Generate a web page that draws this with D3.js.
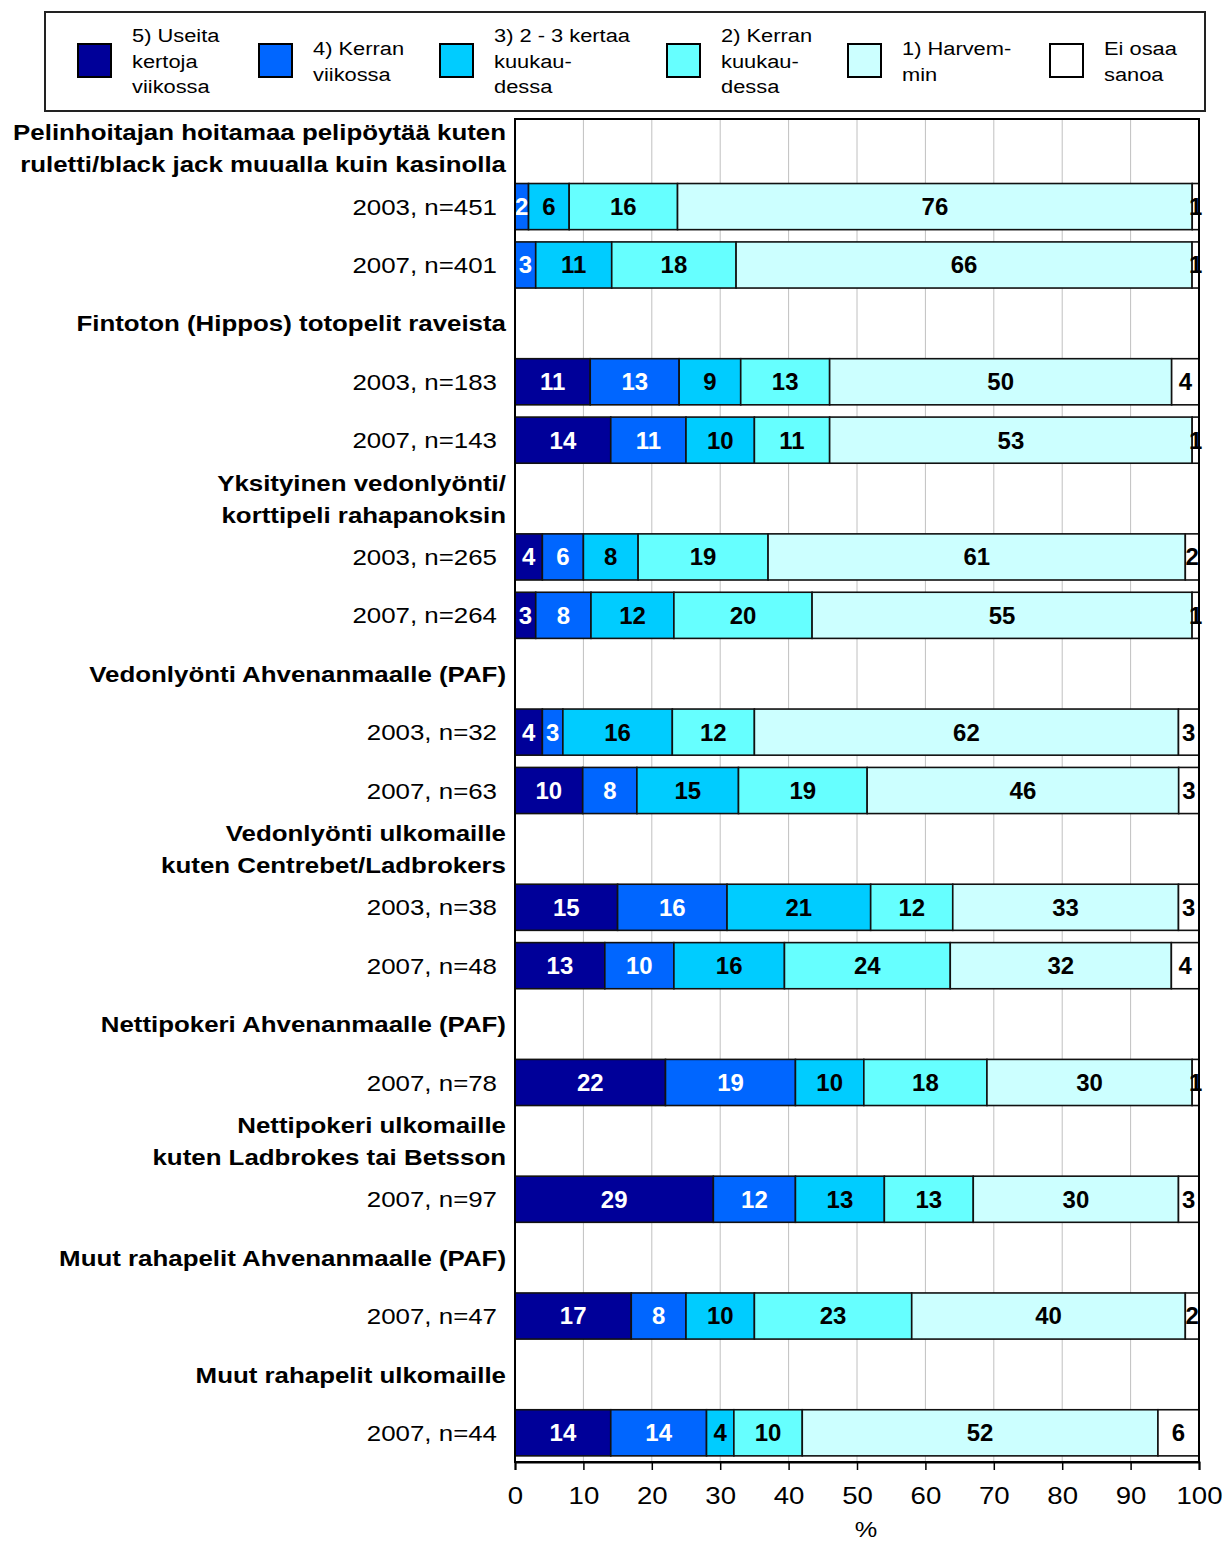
<!DOCTYPE html>
<html><head><meta charset="utf-8">
<script src="https://cdn.jsdelivr.net/npm/d3@7"></script>
<style>body{margin:0;background:#fff} text{font-family:"Liberation Sans",Arial,sans-serif}</style>
</head><body>
<svg id="chart" width="1224" height="1542"></svg>
<script>
// ---- data ----
const groupLabels = [
  ["Pelinhoitajan hoitamaa pelipöytää kuten", "ruletti/black jack muualla kuin kasinolla"],
  ["Fintoton (Hippos) totopelit raveista"],
  ["Yksityinen vedonlyönti/", "korttipeli rahapanoksin"],
  ["Vedonlyönti Ahvenanmaalle (PAF)"],
  ["Vedonlyönti ulkomaille", "kuten Centrebet/Ladbrokers"],
  ["Nettipokeri Ahvenanmaalle (PAF)"],
  ["Nettipokeri ulkomaille", "kuten Ladbrokes tai Betsson"],
  ["Muut rahapelit Ahvenanmaalle (PAF)"],
  ["Muut rahapelit ulkomaille"]
];
const barLabels = ["2003, n=451","2007, n=401","2003, n=183","2007, n=143","2003, n=265","2007, n=264",
  "2003, n=32","2007, n=63","2003, n=38","2007, n=48","2007, n=78","2007, n=97","2007, n=47","2007, n=44"];
const barGroup = [0,0,1,1,2,2,3,3,4,4,5,6,7,8];

const s5 = [0,0,11,14,4,3,4,10,15,13,22,29,17,14];   // 5) Useita kertoja viikossa
const s4 = [2,3,13,11,6,8,3,8,16,10,19,12,8,14];     // 4) Kerran viikossa
const s3 = [6,11,9,10,8,12,16,15,21,16,10,13,10,4];  // 3) 2 - 3 kertaa kuukaudessa
const s2 = [16,18,13,11,19,20,12,19,12,24,18,13,23,10]; // 2) Kerran kuukaudessa
const s1 = [76,66,50,53,61,55,62,46,33,32,30,30,40,52]; // 1) Harvemmin
const s0 = [1,1,4,1,2,1,3,3,3,4,1,3,2,6];           // Ei osaa sanoa

const legendLabels = [["5) Useita","kertoja","viikossa"],["4) Kerran","viikossa"],["3) 2 - 3 kertaa","kuukau-","dessa"],
  ["2) Kerran","kuukau-","dessa"],["1) Harvem-","min"],["Ei osaa","sanoa"]];
const xTicks = [0,10,20,30,40,50,60,70,80,90,100];

// ---- styling ----
const colors = ["#000099","#0066FF","#00CCFF","#66FFFF","#CCFFFF","#FFFFFF"];
const labelColors = ["#fff","#fff","#000","#000","#000","#000"];
const SX = 1.15;

const svg = d3.select("#chart");
const keys = ["s5","s4","s3","s2","s1","s0"];
const seriesArr = [s5,s4,s3,s2,s1,s0];
const rows = barLabels.map((lab,i)=>{
  const o = {key:"b"+i, label:lab};
  keys.forEach((k,j)=>o[k]=seriesArr[j][i]);
  return o;
});

// row order: group header, then its bars
const order = [];
groupLabels.forEach((g,gi)=>{
  order.push("g"+gi);
  barGroup.forEach((bg,bi)=>{ if(bg===gi) order.push("b"+bi); });
});

const L = 515, R = 1199, T = 119, B = 1462;
const x = d3.scaleLinear().domain([0,1]).range([L,R]);
const y = d3.scaleBand().domain(order).range([T,B]).paddingInner(0.21).paddingOuter(0.105);

const stack = d3.stack().keys(keys).offset(d3.stackOffsetExpand);
const stacked = stack(rows);

// gridlines
svg.append("g").selectAll("line").data(xTicks.slice(1,-1)).join("line")
  .attr("x1",d=>x(d/100)).attr("x2",d=>x(d/100)).attr("y1",T).attr("y2",B)
  .attr("stroke","#c0c0c0").attr("stroke-width",1);

// bars
const layers = svg.append("g").selectAll("g").data(stacked).join("g")
  .attr("fill",(d,i)=>colors[i]);
layers.selectAll("rect").data(d=>d.filter(s=>s[1]-s[0]>0)).join("rect")
  .attr("x",d=>x(d[0])).attr("width",d=>x(d[1])-x(d[0]))
  .attr("y",d=>y(d.data.key)).attr("height",y.bandwidth())
  .attr("stroke","#111").attr("stroke-width",1.6);

// bar value labels
stacked.forEach((layer,li)=>{
  svg.append("g").selectAll("text").data(layer.filter(s=>s.data[keys[li]]>0)).join("text")
    .attr("transform",d=>`translate(${(x(d[0])+x(d[1]))/2},${y(d.data.key)+y.bandwidth()/2}) scale(1.02,1)`)
    .attr("text-anchor","middle").attr("dy","0.36em")
    .attr("font-size",23.5).attr("font-weight","bold").attr("fill",labelColors[li])
    .text(d=>d.data[keys[li]]);
});

// plot border
svg.append("rect").attr("x",L).attr("y",T).attr("width",R-L).attr("height",B-T)
  .attr("fill","none").attr("stroke","#000").attr("stroke-width",2);

// x axis
const axis = d3.axisBottom(x).tickValues(xTicks.map(d=>d/100)).tickFormat(d=>Math.round(d*100)).tickSize(8).tickPadding(17);
const ax = svg.append("g").attr("transform",`translate(0,${B})`).call(axis);
ax.select(".domain").attr("stroke","#000").attr("stroke-width",2);
ax.selectAll(".tick line").attr("stroke","#000").attr("stroke-width",1.5);
ax.selectAll(".tick text").attr("font-size",24).attr("fill","#000")
  .attr("font-family","'Liberation Sans',Arial,sans-serif")
  .attr("transform",`scale(${SX},1)`);
svg.append("text").attr("transform",`translate(866,1537) scale(${SX},1)`)
  .attr("text-anchor","middle").attr("font-size",22).text("%");

// category (group) labels
groupLabels.forEach((lines,gi)=>{
  const cy = y("g"+gi)+y.bandwidth()/2;
  const n = lines.length;
  lines.forEach((ln,li)=>{
    svg.append("text").attr("transform",`translate(506,${cy+(li-(n-1)/2)*32}) scale(${SX},1)`)
      .attr("text-anchor","end").attr("dy","0.36em")
      .attr("font-size",22.5).attr("font-weight","bold").text(ln);
  });
});

// bar row labels
svg.append("g").selectAll("text").data(rows).join("text")
  .attr("transform",d=>`translate(497,${y(d.key)+y.bandwidth()/2}) scale(${SX},1)`)
  .attr("text-anchor","end").attr("dy","0.36em").attr("font-size",22.5).text(d=>d.label);

// legend
const lg = svg.append("g");
lg.append("rect").attr("x",45).attr("y",12).attr("width",1160).attr("height",99)
  .attr("fill","#fff").attr("stroke","#222").attr("stroke-width",2);
const swX = [78,259,440,667,848,1050];
legendLabels.forEach((lines,i)=>{
  lg.append("rect").attr("x",swX[i]).attr("y",44).attr("width",33).attr("height",33)
    .attr("fill",colors[i]).attr("stroke","#000").attr("stroke-width",2);
  const n = lines.length;
  lines.forEach((ln,li)=>{
    lg.append("text").attr("transform",`translate(${swX[i]+54},${61+(li-(n-1)/2)*25.5}) scale(${SX},1)`)
      .attr("dy","0.36em").attr("font-size",19).text(ln);
  });
});
</script>
</body></html>
